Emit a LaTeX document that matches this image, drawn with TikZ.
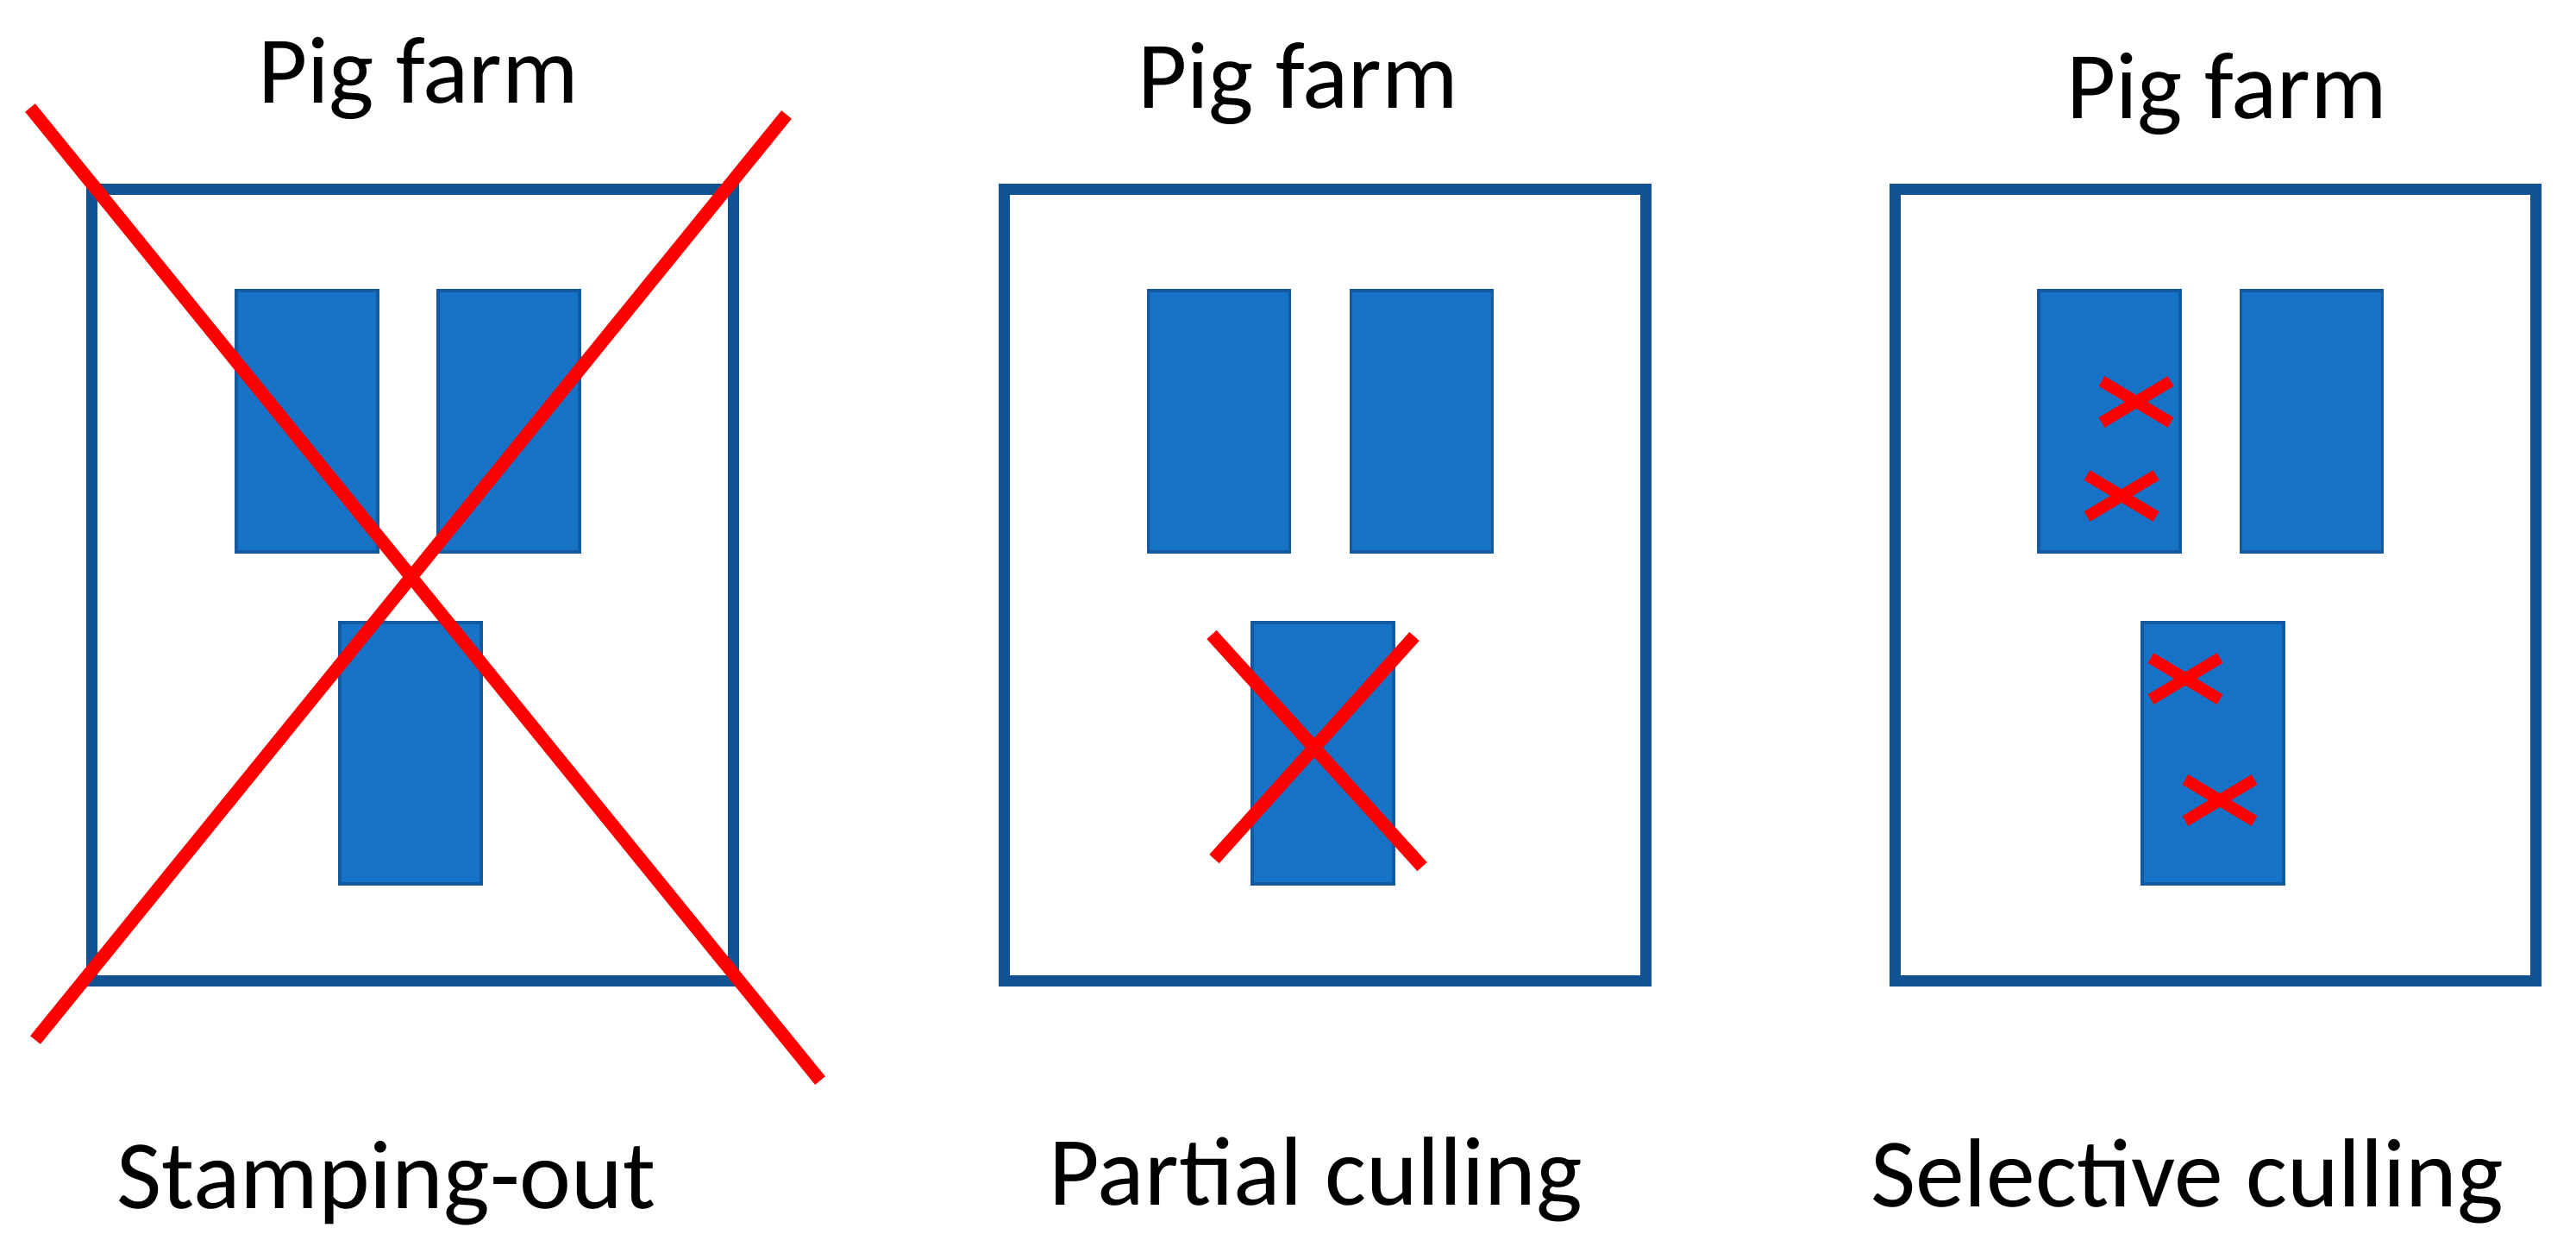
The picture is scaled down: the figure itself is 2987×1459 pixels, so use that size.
\documentclass[tikz,border=0pt]{standalone}
\usepackage{fontspec}
\setmainfont{Carlito}
\definecolor{farmblue}{RGB}{16,82,146}
\definecolor{penblue}{RGB}{22,114,199}
\definecolor{penedge}{RGB}{20,90,160}
\definecolor{cullred}{RGB}{255,0,0}

\begin{document}
\begin{tikzpicture}[x=0.01cm, y=-0.01cm,
		farm/.style={draw=farmblue, line width=3.7pt, rectangle, minimum width=7.43cm, minimum height=9.17cm, inner sep=0pt, outer sep=0pt},
		pen/.style={draw=penedge, line width=1pt, fill=penblue, rectangle, minimum width=1.64cm, minimum height=3.03cm, inner sep=0pt, outer sep=0pt},
		title/.style={anchor=base, font=\fontsize{31.5}{36}\selectfont},
		method/.style={anchor=base, font=\fontsize{32.3}{38}\selectfont},
		bigcross/.style={draw=cullred, line width=4.3pt},
		smallcross/.style={draw=cullred, line width=3.8pt}]
	\useasboundingbox (0,0) rectangle (2987,1459);
	% stamping-out
	\node[title] (T1) at (485, 119) {Pig farm};
	\node[farm] (F1) at (478.5, 678.5) {};
	\node[pen] (P1a) at (356, 488.5) {};
	\node[pen] (P1b) at (590, 488.5) {};
	\node[pen] (P1c) at (476, 873.5) {};
	\node[method] (M1) at (448, 1401) {Stamping-out};
	\coordinate (X1a) at (35, 125);
	\coordinate (X1b) at (951, 1253);
	\coordinate (X1c) at (912, 133);
	\coordinate (X1d) at (41, 1206);
	\draw[bigcross] (X1a) -- (X1b);
	\draw[bigcross] (X1c) -- (X1d);
	% partial culling
	\node[title] (T2) at (1505, 125) {Pig farm};
	\node[farm] (F2) at (1536.5, 678.5) {};
	\node[pen] (P2a) at (1413.5, 488.5) {};
	\node[pen] (P2b) at (1648.5, 488.5) {};
	\node[pen] (P2c) at (1534, 873.5) {};
	\node[method] (M2) at (1526, 1397) {Partial culling};
	\coordinate (X2a) at (1405, 736);
	\coordinate (X2b) at (1649, 1005);
	\coordinate (X2c) at (1640, 738);
	\coordinate (X2d) at (1408, 996);
	\draw[bigcross] (X2a) -- (X2b);
	\draw[bigcross] (X2c) -- (X2d);
	% selective culling
	\node[title] (T3) at (2582, 137) {Pig farm};
	\node[farm] (F3) at (2569, 678.5) {};
	\node[pen] (P3a) at (2446, 488.5) {};
	\node[pen] (P3b) at (2680.5, 488.5) {};
	\node[pen] (P3c) at (2566, 873.5) {};
	\node[method] (M3) at (2536, 1399) {Selective culling};
	\coordinate (S1) at (2477, 466);
	\coordinate (S2) at (2460, 575);
	\coordinate (S3) at (2534, 787);
	\coordinate (S4) at (2574, 928);
	\draw[smallcross] ([shift={(-40,-24)}]S1) -- ([shift={(40,24)}]S1);
	\draw[smallcross] ([shift={(-40,24)}]S1) -- ([shift={(40,-24)}]S1);
	\draw[smallcross] ([shift={(-40,-24)}]S2) -- ([shift={(40,24)}]S2);
	\draw[smallcross] ([shift={(-40,24)}]S2) -- ([shift={(40,-24)}]S2);
	\draw[smallcross] ([shift={(-40,-24)}]S3) -- ([shift={(40,24)}]S3);
	\draw[smallcross] ([shift={(-40,24)}]S3) -- ([shift={(40,-24)}]S3);
	\draw[smallcross] ([shift={(-40,-24)}]S4) -- ([shift={(40,24)}]S4);
	\draw[smallcross] ([shift={(-40,24)}]S4) -- ([shift={(40,-24)}]S4);
\end{tikzpicture}
\end{document}
